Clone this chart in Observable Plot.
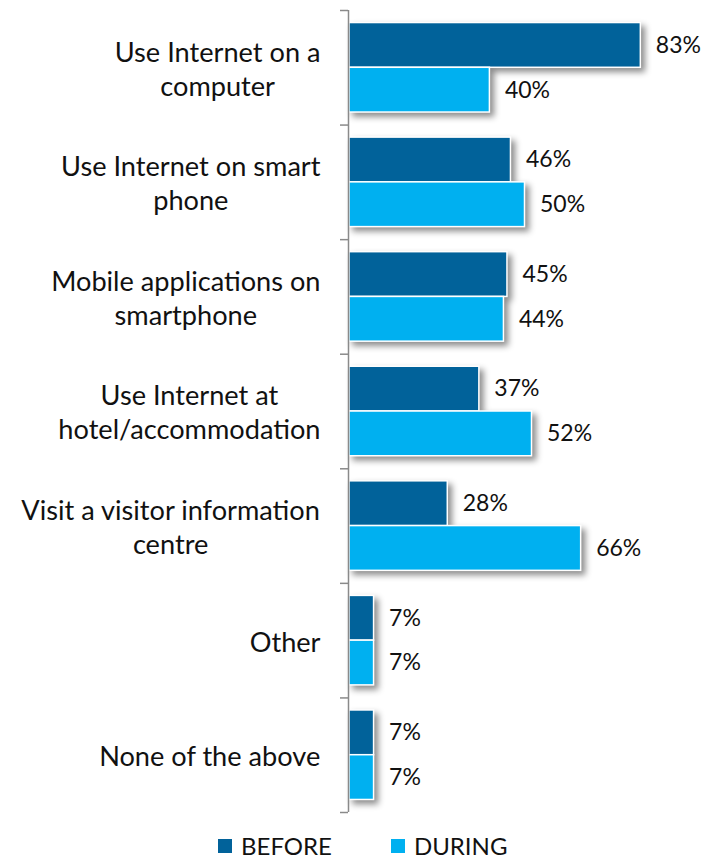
<!DOCTYPE html>
<html>
<head>
<meta charset="utf-8">
<script src="https://cdn.jsdelivr.net/npm/d3@7"></script>
<script src="https://cdn.jsdelivr.net/npm/@observablehq/plot@0.6"></script>
<style>
  html, body { margin: 0; background: #fff; font-family: Lato, sans-serif; overflow: hidden; }
  #chart svg { display: block; }
  #chart svg g[aria-label="rect"] { filter: drop-shadow(4px 4px 3px rgba(0,0,0,0.45)); }
  #legend { display: flex; align-items: center; height: 28px; line-height: 28px; margin-top: 4px; padding-left: 218px; font-family: Lato, sans-serif; font-size: 24px; color: #111; }
  #legend .item { display: flex; align-items: center; }
  #legend .sw { width: 14px; height: 14px; margin-right: 9px; }
</style>
</head>
<body>
<div id="chart"></div>
<div id="legend"></div>
<script>
const categories = [
  "Use Internet on a\ncomputer",
  "Use Internet on smart\nphone",
  "Mobile applications on\nsmartphone",
  "Use Internet at\nhotel/accommodation",
  "Visit a visitor information\ncentre",
  "Other",
  "None of the above"
];
const series = ["BEFORE", "DURING"];
const before = [83, 46, 45, 37, 28, 7, 7];
const during = [40, 50, 44, 52, 66, 7, 7];
const colors = ["#01629a", "#00b0f0"];

const W = 717, H = 828;
const marginLeft = 349, marginRight = 17, marginTop = 10, axisBottom = 812;
const xMax = 100;
const kx = (W - marginLeft - marginRight) / xMax;

const sub = d3.scaleBand().domain(series).range([0, 1]).paddingOuter(0.28).paddingInner(0);

const rows = [];
categories.forEach((c, i) => {
  [before, during].forEach((vals, s) => {
    const name = series[s];
    rows.push({ i, series: name, value: vals[i], y1: i + sub(name), y2: i + sub(name) + sub.bandwidth() });
  });
});

// label sizing
const ctx = document.createElement("canvas").getContext("2d");
ctx.font = "24px Lato";
const refW = ctx.measureText("Visit a visitor information").width;
const labelSize = Math.max(18, Math.min(30, 24 * 300 / refW));
ctx.font = `${labelSize}px Lato`;
const labelRight = 320;
const labelRows = categories.map((c, i) => {
  const w = d3.max(c.split("\n"), l => ctx.measureText(l).width);
  return { i, c, xc: (labelRight - w / 2 - marginLeft) / kx };
});
const boundaries = d3.range(categories.length + 1);

const plot = Plot.plot({
  width: W,
  height: H,
  marginLeft, marginRight, marginTop,
  marginBottom: H - axisBottom,
  x: { type: "linear", domain: [0, xMax], axis: null },
  y: { type: "linear", domain: [0, categories.length], reverse: true, axis: null },
  color: { domain: series, range: colors },
  style: { fontFamily: "Lato, sans-serif", background: "white", overflow: "visible" },
  marks: [
    Plot.rect(rows, { x1: 0, x2: "value", y1: "y1", y2: "y2", fill: "series", stroke: "white", strokeWidth: 1.5 }),
    Plot.text(rows, { x: "value", y: d => (d.y1 + d.y2) / 2, text: d => d.value + "%", textAnchor: "start", dx: 15, fontSize: 23, fill: "#111" }),
    Plot.ruleX([0], { y1: 0, y2: categories.length, stroke: "#8a8a8a", strokeWidth: 1.5, dx: -1 }),
    Plot.ruleY(boundaries, { y: d => d, x1: -8 / kx, x2: 0, stroke: "#8a8a8a", strokeWidth: 1.5, dx: -1, clip: false }),
    Plot.text(labelRows, { x: "xc", y: d => d.i + 0.5, text: "c", textAnchor: "middle", lineAnchor: "middle", fontSize: labelSize, lineHeight: 34 / labelSize, fill: "#111" })
  ]
});
document.getElementById("chart").appendChild(plot);

const legend = document.getElementById("legend");
series.forEach((s, k) => {
  const item = document.createElement("div");
  item.className = "item";
  if (k > 0) item.style.marginLeft = "59px";
  const sw = document.createElement("span");
  sw.className = "sw";
  sw.style.background = colors[k];
  const t = document.createElement("span");
  t.textContent = s;
  item.appendChild(sw);
  item.appendChild(t);
  legend.appendChild(item);
});
</script>
</body>
</html>
